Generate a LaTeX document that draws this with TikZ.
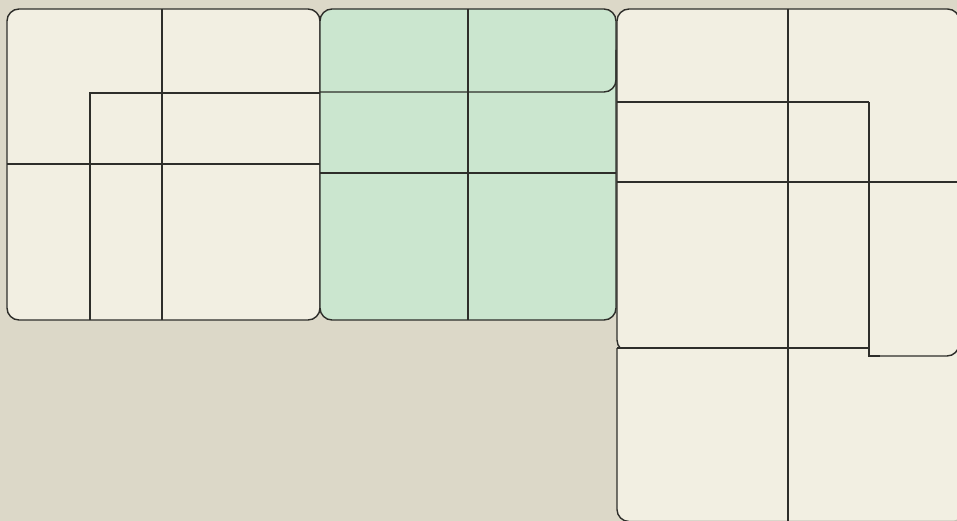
\documentclass[tikz,border=0pt]{standalone}
\definecolor{bgc}{HTML}{DCD8C8}
\definecolor{cream}{HTML}{F2EFE2}
\definecolor{mint}{HTML}{CBE6CF}
\definecolor{edge}{HTML}{2E2E2A}
\tikzset{
  panel/.style={draw=edge, line width=1.4pt, rounded corners=12pt},
  cell/.style={draw=edge, line width=1.4pt},
  rcell/.style={draw=edge, line width=1.4pt, rounded corners=12pt},
}
\begin{document}
\begin{tikzpicture}[x=1pt,y=-1pt]
\useasboundingbox (0,0) rectangle (957,521);
\clip (0,0) rectangle (957,521);
\fill[bgc] (0,0) rectangle (957,521);
% left panel
\path[panel, fill=cream] (7,9) rectangle (320,320);
\draw[cell] (162,9) -- (162,320);
\draw[cell] (7,164) -- (320,164);
\draw[cell] (320,93) -- (90,93) -- (90,320);
% middle panel
\path[panel, fill=mint] (320,9) rectangle (616,320);
\draw[rcell] (320,92) -- (616,92) -- (616,50);
\draw[cell] (468,9) -- (468,320);
\draw[cell] (320,173) -- (616,173);
% right panel
\path[panel, fill=cream] (617,9) rectangle (959.5,352);
\fill[cream, rounded corners=12pt] (617,348) rectangle (962,521.5);
\fill[cream] (617,348) rectangle (700,400);
\draw[rcell] (617,348) -- (617,521.5) -- (962,521.5);
\draw[cell] (617,348) -- (869,348);
\fill[cream] (869.7,102) rectangle (962,355.3);
\draw[cell] (869,102) -- (869,356) -- (880,356);
\draw[rcell] (875,356) -- (959,356) -- (959,300);
\draw[cell] (617,102) -- (869,102);
\draw[cell] (617,182) -- (958,182);
\draw[cell] (788,9) -- (788,521);
\end{tikzpicture}
\end{document}
